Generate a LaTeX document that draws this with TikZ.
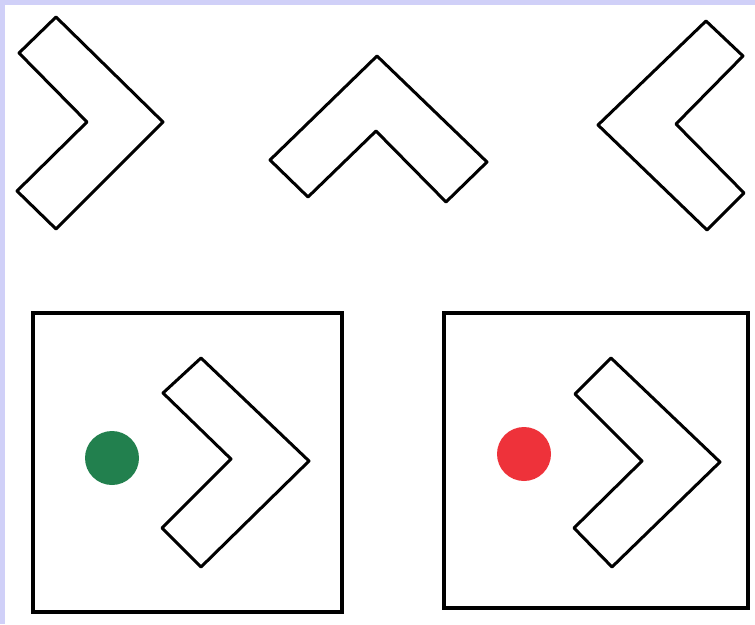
\documentclass[tikz,border=0pt]{standalone}
\definecolor{framelav}{RGB}{208,208,248}
\definecolor{dotgreen}{RGB}{34,128,78}
\definecolor{dotred}{RGB}{238,50,58}
\begin{document}
\begin{tikzpicture}[x=1pt, y=-1pt,
  chevron/.style={line width=3pt, line join=round},
  panel/.style={line width=3.5pt, line join=miter}]
  \useasboundingbox (0,0) rectangle (755,624);
  \fill[framelav] (0,0) rectangle (755,624);
  \fill[white] (5,5) rectangle (755,624);
  % top row
  \draw[chevron] (56,17) -- (163,122) -- (56,229) -- (17,191) -- (87,122) -- (19,53) -- cycle;
  \draw[chevron] (377,56) -- (487,162) -- (446,202) -- (376,131) -- (308,197) -- (270,160) -- cycle;
  \draw[chevron] (706,21) -- (743,56) -- (676,124) -- (744,193) -- (707,230) -- (598,125) -- cycle;
  % bottom row, left panel
  \draw[panel] (33,313) rectangle (342,612);
  \fill[dotgreen] (112,458) circle (27);
  \draw[chevron] (201,358) -- (309,461) -- (201,567) -- (162,528) -- (231,459) -- (163,393) -- cycle;
  % bottom row, right panel
  \draw[panel] (444,313) rectangle (748,608);
  \fill[dotred] (524,454) circle (27);
  \draw[chevron] (611,358) -- (720,462) -- (612,567) -- (574,528) -- (642,461) -- (575,394) -- cycle;
\end{tikzpicture}
\end{document}
